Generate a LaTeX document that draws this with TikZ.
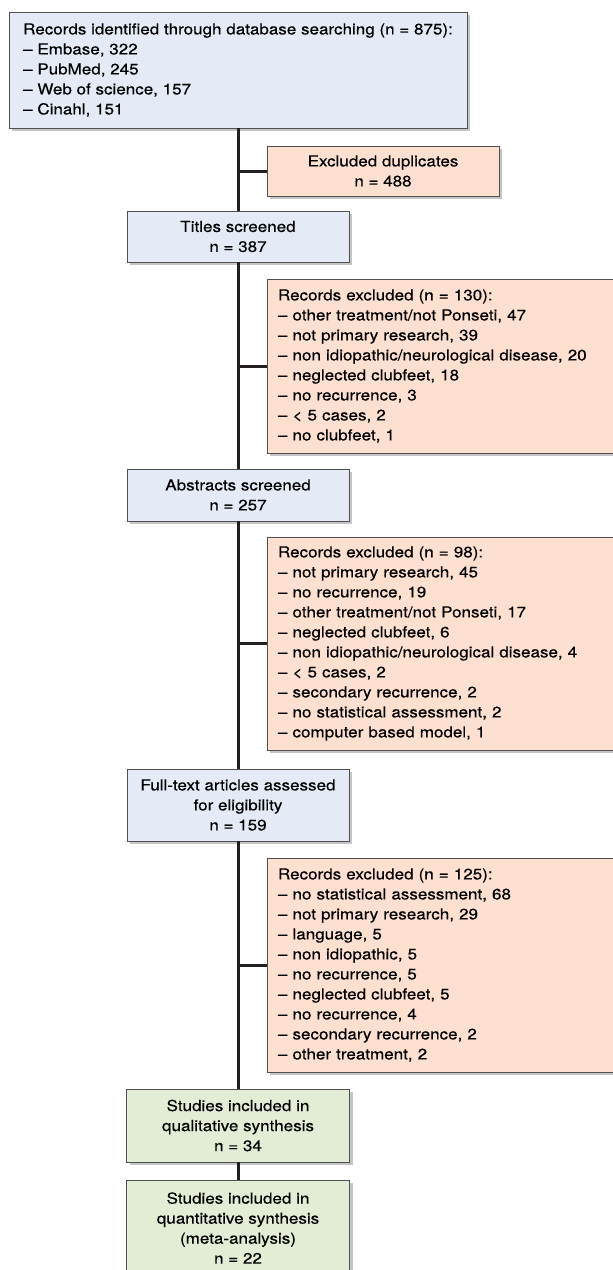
\documentclass[tikz,border=0pt]{standalone}
\usepackage{fontspec}
\setmainfont{TeX Gyre Heros}[FakeStretch=1.12, FakeBold=0.4]
\usetikzlibrary{positioning,shadows}

\definecolor{boxblue}{RGB}{228,235,246}
\definecolor{boxred}{RGB}{253,224,208}
\definecolor{boxgreen}{RGB}{227,237,213}
\definecolor{rim}{RGB}{80,80,80}
\definecolor{trunk}{RGB}{35,31,32}

\begin{document}
\begin{tikzpicture}[x=1pt,y=-1pt,
  font=\fontsize{15.2}{20}\selectfont,
  box/.style={draw=rim, line width=0.9pt, inner sep=0pt, align=center,
    drop shadow={shadow xshift=3pt, shadow yshift=-3pt, fill=black!45, opacity=.5}},
  stage/.style={box, fill=boxblue, minimum width=222pt},
  drop/.style={box, fill=boxred},
  list/.style={drop, minimum width=346pt, text width=324pt, align=left},
  final/.style={box, fill=boxgreen, minimum width=223pt},
  link/.style={draw=trunk, line width=3pt}]
\useasboundingbox (0,0) rectangle (613,1270);

% main column
\node[stage, minimum width=458pt, minimum height=116pt, align=left] (src) at (238,70)
  {Records identified through database searching (n = 875):\\
   – Embase, 322\\ – PubMed, 245\\ – Web of science, 157\\ – Cinahl, 151};
\node[stage, minimum height=51pt] (titles) at (238,236.5) {Titles screened\\ n = 387};
\node[stage, minimum height=52pt] (abstr) at (238,495) {Abstracts screened\\ n = 257};
\node[stage, minimum height=72pt] (full) at (238,805) {Full-text articles assessed\\ for eligibility\\ n = 159};
\node[final, minimum height=73pt] (qual) at (238,1125.5) {Studies included in\\ qualitative synthesis\\ n = 34};
\node[final, minimum height=96pt] (quant) at (238,1228) {Studies included in\\ quantitative synthesis\\ (meta-analysis)\\ n = 22};

% exclusions
\node[drop, minimum width=232pt, minimum height=50pt] (dup) at (383,171) {Excluded duplicates\\ n = 488};
\node[list, minimum height=174pt] (exA) at (440,366)
  {Records excluded (n = 130):\\ – other treatment/not Ponseti, 47\\ – not primary research, 39\\
   – non idiopathic/neurological disease, 20\\ – neglected clubfeet, 18\\ – no recurrence, 3\\
   – < 5 cases, 2\\ – no clubfeet, 1};
\node[list, minimum height=213pt] (exB) at (440,643.5)
  {Records excluded (n = 98):\\ – not primary research, 45\\ – no recurrence, 19\\
   – other treatment/not Ponseti, 17\\ – neglected clubfeet, 6\\ – non idiopathic/neurological disease, 4\\
   – < 5 cases, 2\\ – secondary recurrence, 2\\ – no statistical assessment, 2\\ – computer based model, 1};
\node[list, minimum height=214pt] (exC) at (440,965)
  {Records excluded (n = 125):\\ – no statistical assessment, 68\\ – not primary research, 29\\
   – language, 5\\ – non idiopathic, 5\\ – no recurrence, 5\\ – neglected clubfeet, 5\\
   – no recurrence, 4\\ – secondary recurrence, 2\\ – other treatment, 2};

% connectors
\path[link] (src) -- (titles) -- (abstr) -- (full) -- (qual) -- (quant);
\path[link] (dup.west -| src.south) -- (dup.west);
\path[link] (exA.west -| src.south) -- (exA.west);
\path[link] (exB.west -| src.south) -- (exB.west);
\path[link] (exC.west -| src.south) -- (exC.west);
\end{tikzpicture}
\end{document}
